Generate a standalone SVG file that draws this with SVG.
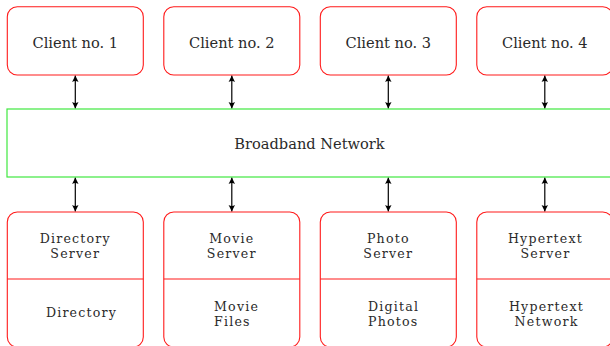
<svg xmlns="http://www.w3.org/2000/svg" width="610" height="346" viewBox="0 0 610 346">
<defs>
<style>
.box{fill:#fff;stroke:#ff1a1a;stroke-width:1.1}
.net{fill:#fff;stroke:#40e840;stroke-width:1.2}
.div{stroke:#ff1a1a;stroke-width:1.1}
.lbl{font-size:14.6px;fill:#2a2a2a;text-anchor:middle}
.srv{font-size:12.6px;fill:#2a2a2a;letter-spacing:1.2px}
.mid{text-anchor:middle}
.conn{stroke:#000;stroke-width:1.2;fill:none;marker-start:url(#ah);marker-end:url(#ah)}
</style>
<marker id="ah" viewBox="-7 -4 8 8" refX="0" refY="0" markerWidth="8" markerHeight="8" markerUnits="userSpaceOnUse" orient="auto-start-reverse">
<path d="M0,0 L-6.5,-3.2 Q-4.5,0 -6.5,3.2 Z" fill="#000"/>
</marker>
</defs>
<rect width="610" height="346" fill="#fff"/>
<g id="connectors">
<line class="conn" x1="75.3" y1="75.5" x2="75.3" y2="108.5"/>
<line class="conn" x1="231.8" y1="75.5" x2="231.8" y2="108.5"/>
<line class="conn" x1="388.3" y1="75.5" x2="388.3" y2="108.5"/>
<line class="conn" x1="544.8" y1="75.5" x2="544.8" y2="108.5"/>
<line class="conn" x1="75.3" y1="177.5" x2="75.3" y2="211.5"/>
<line class="conn" x1="231.8" y1="177.5" x2="231.8" y2="211.5"/>
<line class="conn" x1="388.3" y1="177.5" x2="388.3" y2="211.5"/>
<line class="conn" x1="544.8" y1="177.5" x2="544.8" y2="211.5"/>
</g>
<g id="client1"><rect class="box" x="7.3" y="6.8" width="136" height="68.2" rx="10"/><text class="lbl" font-family="DejaVu Serif, serif" x="75.3" y="47.5">Client no. 1</text></g>
<g id="client2"><rect class="box" x="163.8" y="6.8" width="136" height="68.2" rx="10"/><text class="lbl" font-family="DejaVu Serif, serif" x="231.8" y="47.5">Client no. 2</text></g>
<g id="client3"><rect class="box" x="320.3" y="6.8" width="136" height="68.2" rx="10"/><text class="lbl" font-family="DejaVu Serif, serif" x="388.3" y="47.5">Client no. 3</text></g>
<g id="client4"><rect class="box" x="476.8" y="6.8" width="136" height="68.2" rx="10"/><text class="lbl" font-family="DejaVu Serif, serif" x="544.8" y="47.5">Client no. 4</text></g>
<g id="network"><rect class="net" x="7" y="109" width="610" height="68"/><text class="lbl" font-family="DejaVu Serif, serif" x="309.5" y="148.5">Broadband Network</text></g>
<g id="server1"><rect class="box" x="7.3" y="212" width="136" height="135" rx="10"/><line class="div" x1="7.3" y1="279" x2="143.3" y2="279"/>
<text class="srv mid" font-family="DejaVu Serif, serif" x="75.3" y="242.5">Directory</text><text class="srv mid" font-family="DejaVu Serif, serif" x="75.3" y="257.5">Server</text>
<text class="srv mid" font-family="DejaVu Serif, serif" x="81.5" y="317">Directory</text></g>
<g id="server2"><rect class="box" x="163.8" y="212" width="136" height="135" rx="10"/><line class="div" x1="163.8" y1="279" x2="299.8" y2="279"/>
<text class="srv mid" font-family="DejaVu Serif, serif" x="231.8" y="242.5">Movie</text><text class="srv mid" font-family="DejaVu Serif, serif" x="231.8" y="257.5">Server</text>
<text class="srv" font-family="DejaVu Serif, serif" x="214" y="311">Movie</text><text class="srv" font-family="DejaVu Serif, serif" x="214" y="325.5">Files</text></g>
<g id="server3"><rect class="box" x="320.3" y="212" width="136" height="135" rx="10"/><line class="div" x1="320.3" y1="279" x2="456.3" y2="279"/>
<text class="srv mid" font-family="DejaVu Serif, serif" x="388.3" y="242.5">Photo</text><text class="srv mid" font-family="DejaVu Serif, serif" x="388.3" y="257.5">Server</text>
<text class="srv" font-family="DejaVu Serif, serif" x="368" y="311">Digital</text><text class="srv" font-family="DejaVu Serif, serif" x="368" y="325.5">Photos</text></g>
<g id="server4"><rect class="box" x="476.8" y="212" width="136" height="135" rx="10"/><line class="div" x1="476.8" y1="279" x2="612.8" y2="279"/>
<text class="srv mid" font-family="DejaVu Serif, serif" x="545.5" y="242.5">Hypertext</text><text class="srv mid" font-family="DejaVu Serif, serif" x="545.5" y="257.5">Server</text>
<text class="srv mid" font-family="DejaVu Serif, serif" x="546.5" y="311">Hypertext</text><text class="srv mid" font-family="DejaVu Serif, serif" x="546.5" y="325.5">Network</text></g>
</svg>
